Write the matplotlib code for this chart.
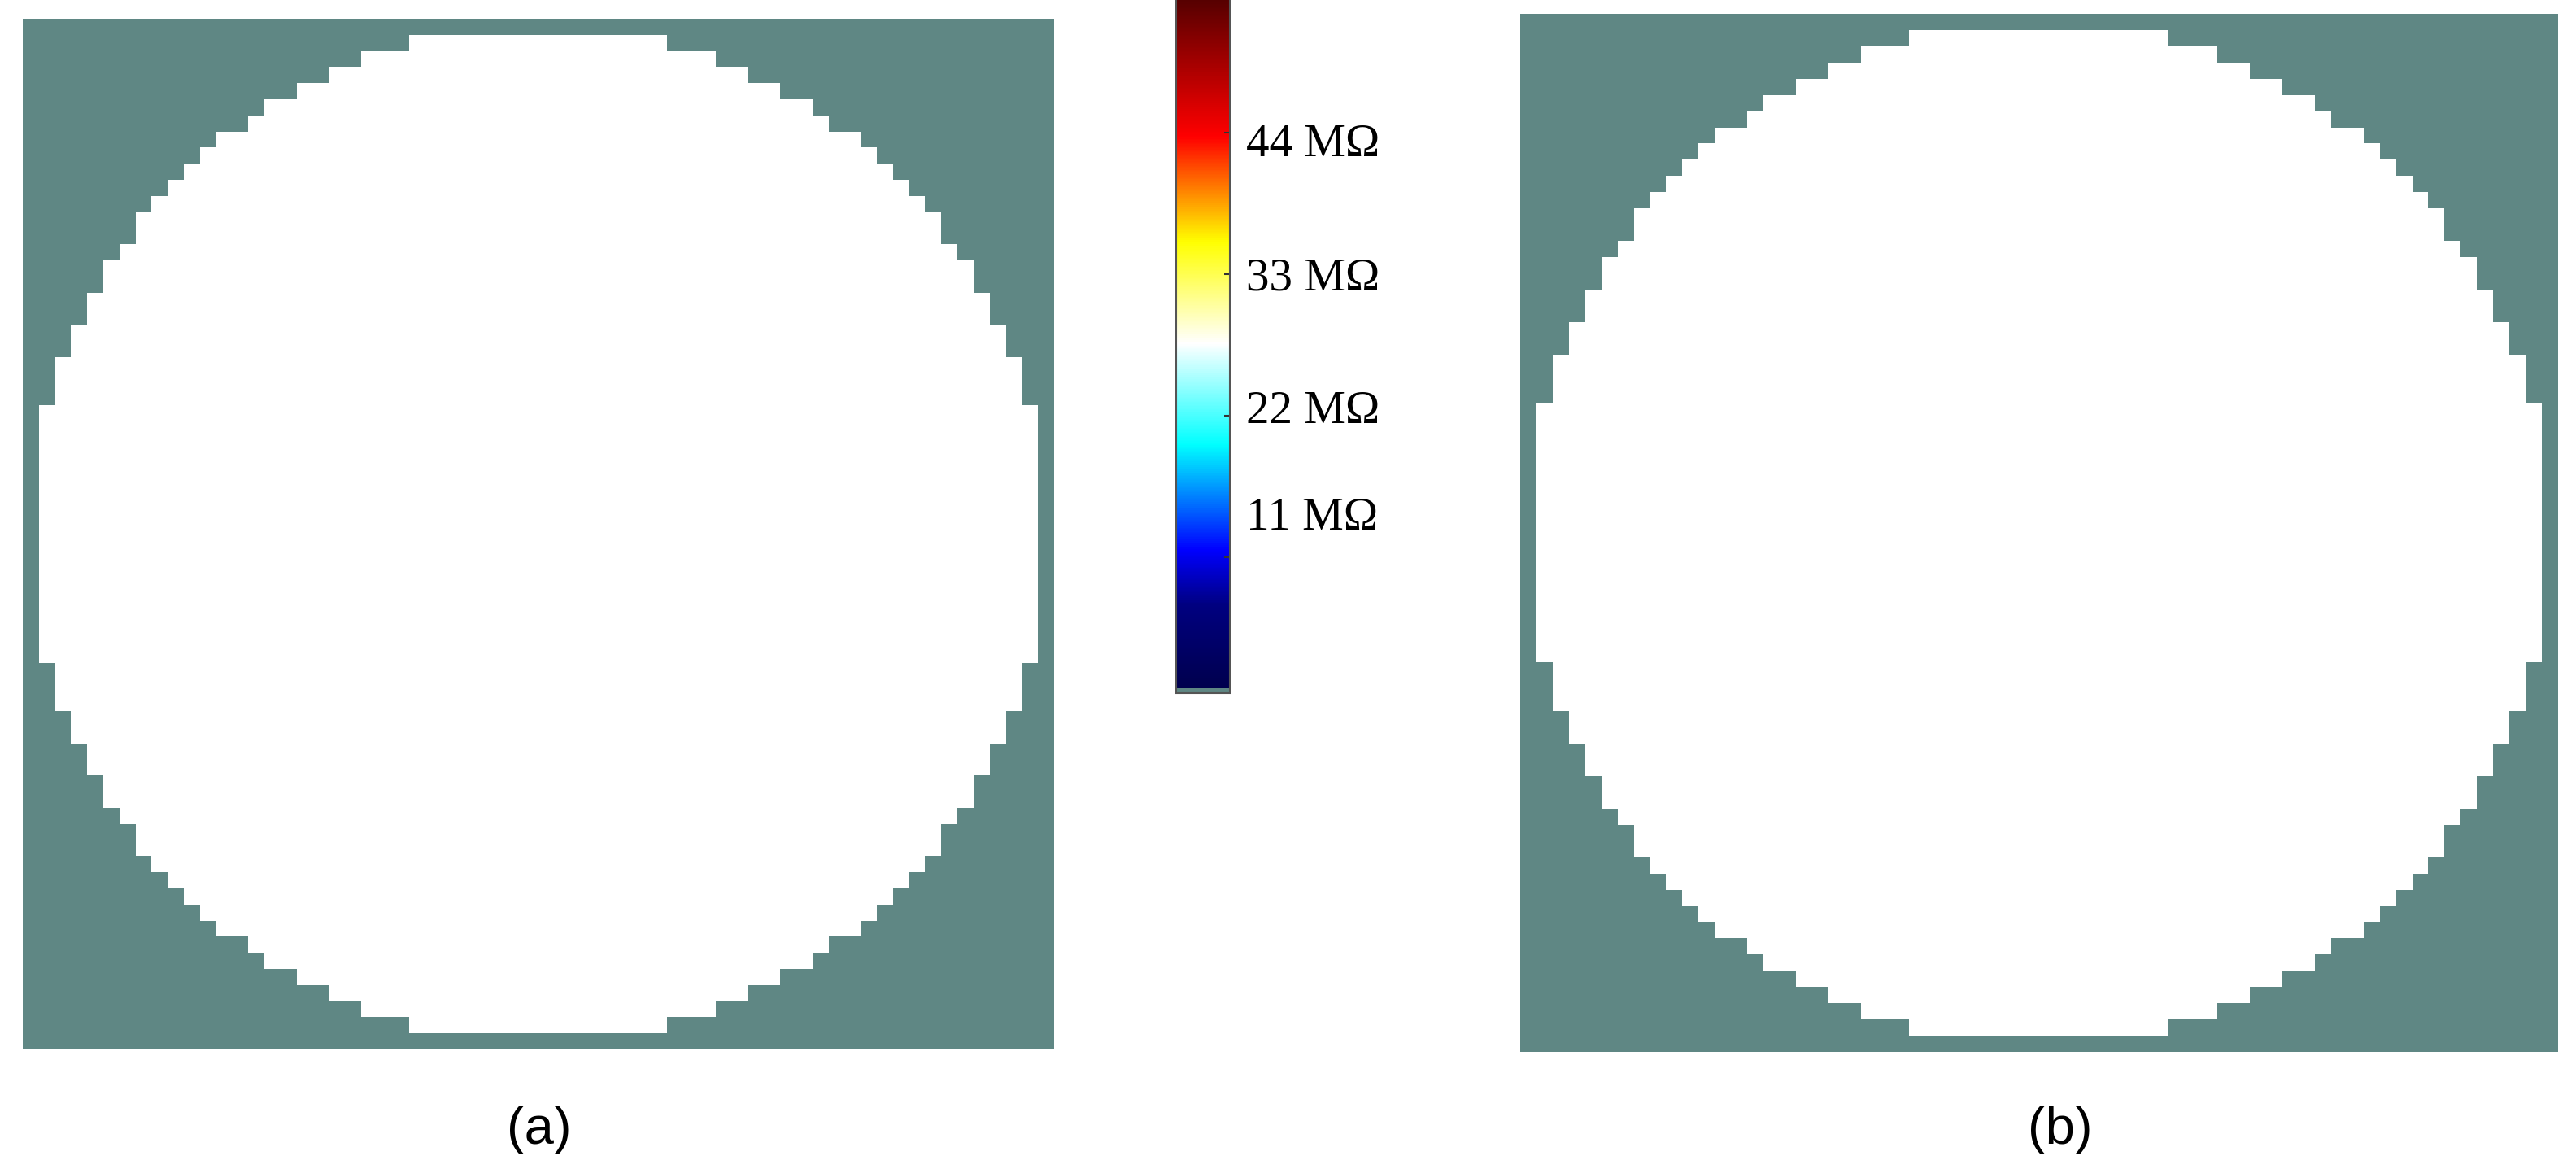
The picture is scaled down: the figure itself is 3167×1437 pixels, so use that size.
import matplotlib.pyplot as plt
import numpy as np
from matplotlib.colors import LinearSegmentedColormap, Normalize

#######################
# data
#######################
# first white column of each row, top half of the 64x64 grid (mirrored below)
row_start = [32, 24, 21, 19, 17, 15, 14, 12, 11, 10, 9, 8, 7, 7, 6, 5,
             5, 4, 4, 3, 3, 2, 2, 2, 1, 1, 1, 1, 1, 1, 1, 1]
inside_val = 27.6     # MOhm, sits on the white part of the scale
outside_val = 0.0     # below the scale -> grey-teal
tick_vals = [11, 22, 33, 44]
tick_labels = ["11 M\u03a9", "22 M\u03a9", "33 M\u03a9", "44 M\u03a9"]
panel_labels = ["(a)", "(b)"]

W, H = 3167, 1437
fig = plt.figure(figsize=(W / 100, H / 100), dpi=100)

def px_axes(x0, y0, x1, y1):
    # pixel box (top-down) -> figure axes
    return fig.add_axes([x0 / W, 1 - y1 / H, (x1 - x0) / W, (y1 - y0) / H])

cmap = LinearSegmentedColormap.from_list("jetwhite", [
    (0.0, "#00004d"), (0.12, "#000080"), (0.2, "#0000ff"), (0.353, "#00ffff"),
    (0.5, "#ffffff"), (0.647, "#ffff00"), (0.8, "#ff0000"), (1.0, "#550000")], N=511)
cmap.set_under("#5f8784")
norm = Normalize(0.8, 54.4)

half = np.array(row_start)
rows = np.concatenate([half, half[::-1]])
cols = np.arange(64)
grid = np.where((cols[None, :] >= rows[:, None]) & (cols[None, :] <= 63 - rows[:, None]),
                inside_val, outside_val)

boxes = [(28, 23, 1296, 1290), (1869, 17, 3144, 1293)]
label_x = [663, 2533]
for box, lab, lx in zip(boxes, panel_labels, label_x):
    ax = px_axes(*box)
    im = ax.imshow(grid, cmap=cmap, norm=norm, interpolation="nearest", aspect="auto")
    ax.axis("off")
    fig.text(lx / W, 1 - 1389 / H, lab, ha="center", va="center",
             fontsize=47, family="Liberation Sans")

# colour bar
cax = px_axes(1446, -2, 1512, 852)
cb = fig.colorbar(im, cax=cax, extend="min", extendrect=True, extendfrac=6 / 854)
cb.outline.set_edgecolor("#555555")
cb.outline.set_linewidth(1.5)
cax.set_yticks(tick_vals)
cax.set_yticklabels([])
cax.tick_params(axis="y", direction="in", length=5, width=1.5, color="#333333")
label_off = [3.0, 0.3, -0.4, -1.0]
for v, t, off in zip(tick_vals, tick_labels, label_off):
    cax.text(1.3, v + off, t, transform=cax.get_yaxis_transform(), ha="left", va="center",
             fontsize=41, family="Liberation Serif")

fig.savefig("out.png", dpi=100)
